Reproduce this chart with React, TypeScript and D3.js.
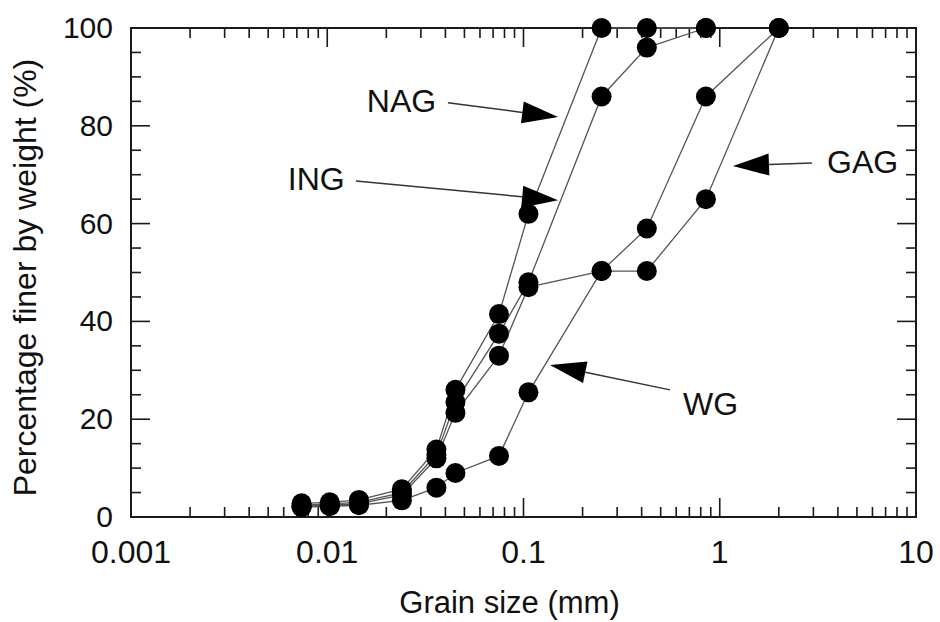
import { useEffect, useRef } from "react"
import * as d3 from "d3"

const WIDTH = 940
const HEIGHT = 622
const FONT = "'Liberation Sans', Arial, Helvetica, sans-serif"

// sieve / hydrometer grain sizes (mm)
const grainSizes = [0.0074, 0.0103, 0.0145, 0.024, 0.036, 0.045, 0.075, 0.106, 0.25, 0.425, 0.85, 2.0]

// percentage finer by weight
const nagValues = [2.8, 3.0, 3.5, 5.7, 13.8, 26, 41.5, 62, 100, 100, 100]
const ingValues = [2.4, 2.7, 3.0, 5.0, 12.8, 23.5, 37.5, 48, 86, 96, 100]
const gagValues = [2.2, 2.4, 2.7, 4.5, 12.0, 21.3, 33, 47, 50.3, 50.3, 65, 100]
const wgValues = [2.0, 2.2, 2.4, 3.4, 6.0, 9, 12.5, 25.5, 50.3, 59, 86, 100]

const seriesNames = ["NAG", "ING", "GAG", "WG"]
const seriesValues = [nagValues, ingValues, gagValues, wgValues]

const xTickValues = [0.001, 0.01, 0.1, 1, 10]
const xTickLabels = ["0.001", "0.01", "0.1", "1", "10"]
const yTickValues = [0, 20, 40, 60, 80, 100]

// label annotations, in data units: text start, arrow tail, arrow tip
const annotationLabels = ["NAG", "ING", "GAG", "WG"]
const annotationText = [[0.0159, 82.8], [0.0063, 66.9], [3.52, 70.3], [0.65, 20.9]]
const annotationTail = [[0.0412, 84.7], [0.014, 68.7], [2.95, 72.4], [0.558, 26]]
const annotationTip = [[0.15, 81.8], [0.15, 64.8], [1.168, 71.8], [0.1365, 31.1]]

export default function App() {
  const svgRef = useRef<SVGSVGElement | null>(null)

  useEffect(() => {
    if (!svgRef.current) return
    const svg = d3.select(svgRef.current)
    svg.selectAll("*").remove()

    const margin = { top: 28, right: 24, bottom: 105, left: 131 }
    const innerWidth = WIDTH - margin.left - margin.right
    const innerHeight = HEIGHT - margin.top - margin.bottom

    const x = d3.scaleLog().domain([0.001, 10]).range([0, innerWidth])
    const y = d3.scaleLinear().domain([0, 100]).range([innerHeight, 0])

    svg.append("rect").attr("width", WIDTH).attr("height", HEIGHT).attr("fill", "#ffffff")

    const g = svg.append("g").attr("transform", `translate(${margin.left},${margin.top})`)

    // ticks (inward, on all four sides)
    const minorX: number[] = []
    for (let dec = 0.001; dec < 10; dec *= 10) {
      for (let k = 2; k <= 9; k++) minorX.push(dec * k)
    }
    const majorLen = 19
    const minorLen = 10
    const tickColor = "#1a1a1a"

    const xTicks = [
      ...xTickValues.map((v) => ({ v, len: majorLen })),
      ...minorX.map((v) => ({ v, len: minorLen })),
    ]
    xTicks.forEach((t) => {
      const px = x(t.v)
      g.append("line")
        .attr("x1", px).attr("x2", px)
        .attr("y1", innerHeight).attr("y2", innerHeight - t.len)
        .attr("stroke", tickColor).attr("stroke-width", 1.6)
      g.append("line")
        .attr("x1", px).attr("x2", px)
        .attr("y1", 0).attr("y2", t.len)
        .attr("stroke", tickColor).attr("stroke-width", 1.6)
    })

    const yTicks = d3.range(0, 101, 5).map((v) => ({ v, len: v % 20 === 0 ? majorLen : minorLen }))
    yTicks.forEach((t) => {
      const py = y(t.v)
      g.append("line")
        .attr("x1", 0).attr("x2", t.len)
        .attr("y1", py).attr("y2", py)
        .attr("stroke", tickColor).attr("stroke-width", 1.6)
      g.append("line")
        .attr("x1", innerWidth).attr("x2", innerWidth - t.len)
        .attr("y1", py).attr("y2", py)
        .attr("stroke", tickColor).attr("stroke-width", 1.6)
    })

    // frame
    g.append("rect")
      .attr("width", innerWidth)
      .attr("height", innerHeight)
      .attr("fill", "none")
      .attr("stroke", tickColor)
      .attr("stroke-width", 2)

    // tick labels
    xTickValues.forEach((v, i) => {
      g.append("text")
        .attr("x", x(v))
        .attr("y", innerHeight + 46)
        .attr("text-anchor", "middle")
        .style("font-family", FONT)
        .style("font-size", "32px")
        .style("fill", "#111")
        .text(xTickLabels[i])
    })
    yTickValues.forEach((v) => {
      g.append("text")
        .attr("x", -18)
        .attr("y", y(v) + 10)
        .attr("text-anchor", "end")
        .style("font-family", FONT)
        .style("font-size", "30px")
        .style("fill", "#111")
        .text(String(v))
    })

    // axis titles
    g.append("text")
      .attr("x", innerWidth / 2 - 14)
      .attr("y", innerHeight + 96)
      .attr("text-anchor", "middle")
      .style("font-family", FONT)
      .style("font-size", "31px")
      .style("fill", "#111")
      .text("Grain size (mm)")

    g.append("text")
      .attr("transform", `translate(${-margin.left + 36},${innerHeight / 2 + 5}) rotate(-90)`)
      .attr("text-anchor", "middle")
      .style("font-family", FONT)
      .style("font-size", "32px")
      .style("fill", "#111")
      .text("Percentage finer by weight (%)")

    // curves
    const line = d3
      .line<[number, number]>()
      .x((d) => x(d[0]))
      .y((d) => y(d[1]))

    const series = seriesValues.map((vals, i) => ({
      name: seriesNames[i],
      points: vals.map((v, j) => [grainSizes[j], v] as [number, number]),
    }))

    series.forEach((s) => {
      g.append("path")
        .datum(s.points)
        .attr("fill", "none")
        .attr("stroke", "#555")
        .attr("stroke-width", 1.3)
        .attr("d", line)
    })

    series.forEach((s) => {
      g.append("g")
        .selectAll("circle")
        .data(s.points)
        .join("circle")
        .attr("cx", (d) => x(d[0]))
        .attr("cy", (d) => y(d[1]))
        .attr("r", 10)
        .attr("fill", "#000")
    })

    // annotations with arrows
    annotationLabels.forEach((label, i) => {
      const tx = x(annotationText[i][0])
      const ty = y(annotationText[i][1])
      const ax = x(annotationTail[i][0])
      const ay = y(annotationTail[i][1])
      const bx = x(annotationTip[i][0])
      const by = y(annotationTip[i][1])

      g.append("text")
        .attr("x", tx)
        .attr("y", ty)
        .style("font-family", FONT)
        .style("font-size", "32px")
        .style("fill", "#111")
        .text(label)

      const dx = bx - ax
      const dy = by - ay
      const len = Math.hypot(dx, dy)
      const ux = dx / len
      const uy = dy / len
      const headLen = 36
      const headHalf = 11
      const baseX = bx - ux * headLen
      const baseY = by - uy * headLen

      g.append("line")
        .attr("x1", ax).attr("y1", ay)
        .attr("x2", baseX).attr("y2", baseY)
        .attr("stroke", "#333")
        .attr("stroke-width", 1.5)

      g.append("path")
        .attr(
          "d",
          `M${bx},${by}L${baseX - uy * headHalf},${baseY + ux * headHalf}L${baseX + uy * headHalf},${baseY - ux * headHalf}Z`,
        )
        .attr("fill", "#000")
    })
  }, [])

  return (
    <svg
      ref={svgRef}
      width={WIDTH}
      height={HEIGHT}
      style={{ position: "absolute", left: 0, top: 0, display: "block" }}
    ></svg>
  )
}
